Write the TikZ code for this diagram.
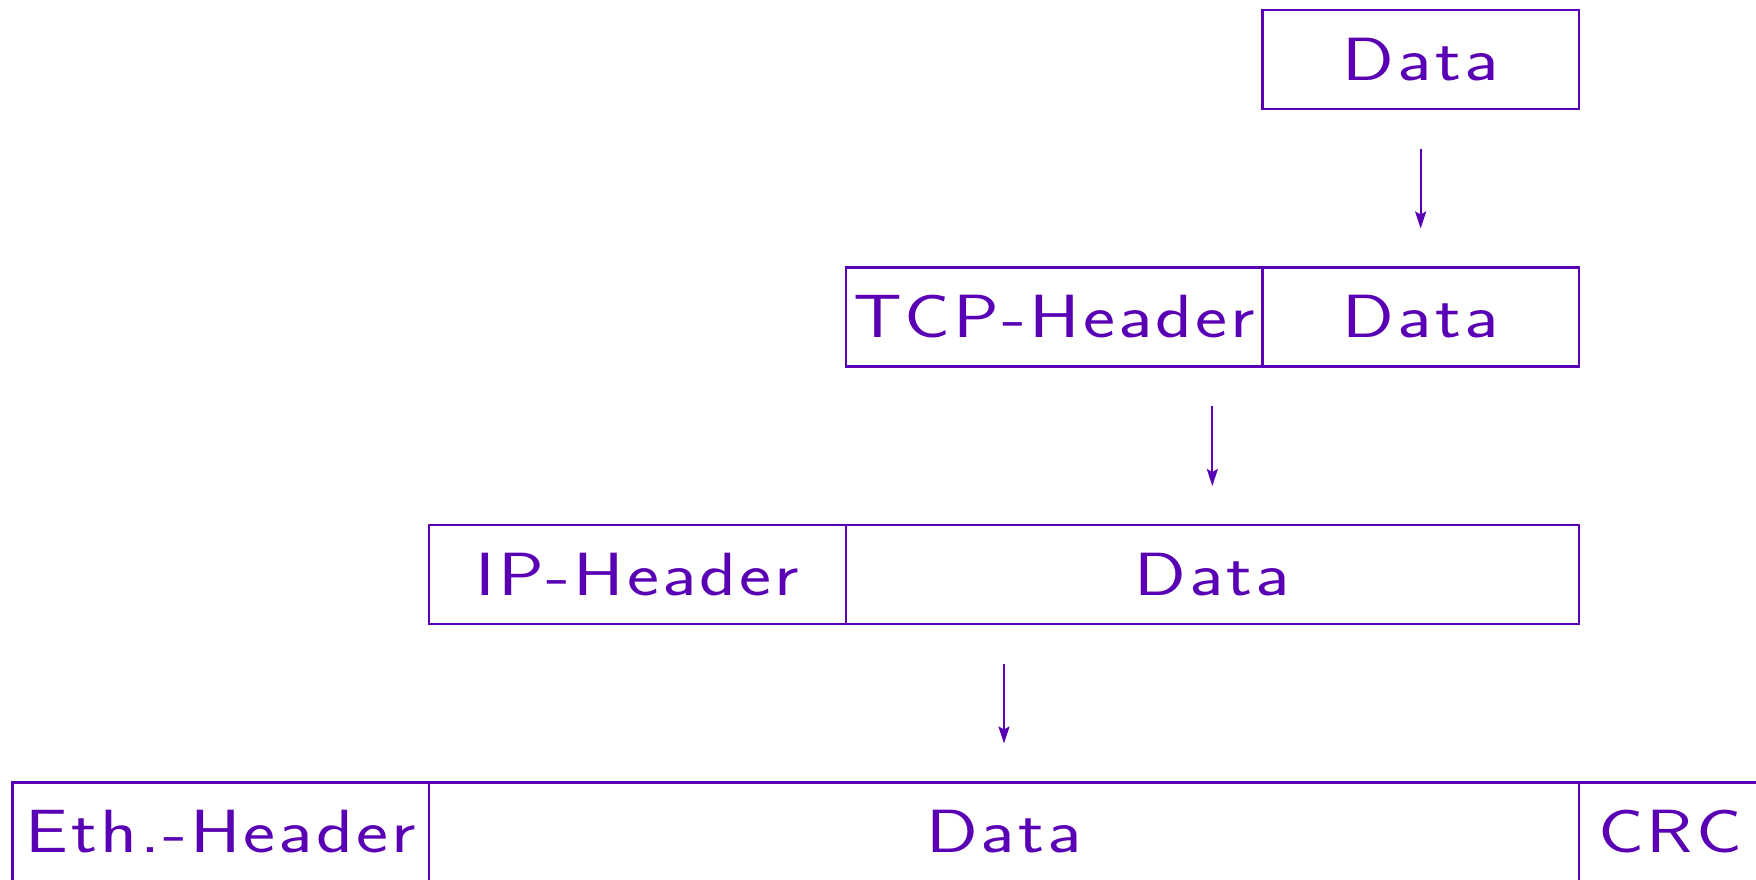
\documentclass[tikz,border=0pt]{standalone}
\usepackage{graphicx}
\usepackage{fontspec}
\newfontfamily\lbf{lmsans17-regular.otf}[LetterSpace=4]
\usetikzlibrary{arrows.meta,calc}
\definecolor{pkt}{RGB}{90,0,180}
\newcommand{\lbl}[1]{\scalebox{1.25}[1]{#1}}
\begin{document}
\begin{tikzpicture}[x=1pt,y=1pt,
  seg/.style={draw=pkt, line width=2.4pt, anchor=north west, inner sep=0pt, outer sep=0pt,
    minimum height=99pt, text=pkt, font=\fontsize{61}{72}\selectfont\lbf},
  arr/.style={draw=pkt, line width=2.2pt, -{Stealth[length=17pt,width=11pt,inset=3pt]}}]
\useasboundingbox (0,0) rectangle (1756,879);
\clip (0,0) rectangle (1756,879);
% row 1
\node[seg, minimum width=316.7pt] (d1) at (1262.3,869) {\lbl{Data}};
% row 2
\node[seg, minimum width=416.6pt] (tcph) at (845.7,611.5) {\lbl{TCP-Header}};
\node[seg, minimum width=316.7pt] (tcpd) at (1262.3,611.5) {\lbl{Data}};
% row 3
\node[seg, minimum width=416.7pt] (iph) at (429,354) {\lbl{IP-Header}};
\node[seg, minimum width=733.3pt] (ipd) at (845.7,354) {\lbl{Data}};
% row 4
\node[seg, minimum width=416.7pt] (ethh) at (12.3,96.5) {\lbl{Eth.-Header}};
\node[seg, minimum width=1150pt] (ethd) at (429,96.5) {\lbl{Data}};
\node[seg, minimum width=182pt] (crc) at (1579,96.5) {\lbl{CRC}};
% arrows
\draw[arr] ($(d1.south)+(0,-40)$) -- ($(tcpd.north)+(0,39)$);
\draw[arr] ($(ipd.north |- tcph.south)+(0,-40)$) -- ($(ipd.north)+(0,39)$);
\draw[arr] ($(ethd.north |- iph.south)+(0,-40)$) -- ($(ethd.north)+(0,39)$);
\end{tikzpicture}
\end{document}
